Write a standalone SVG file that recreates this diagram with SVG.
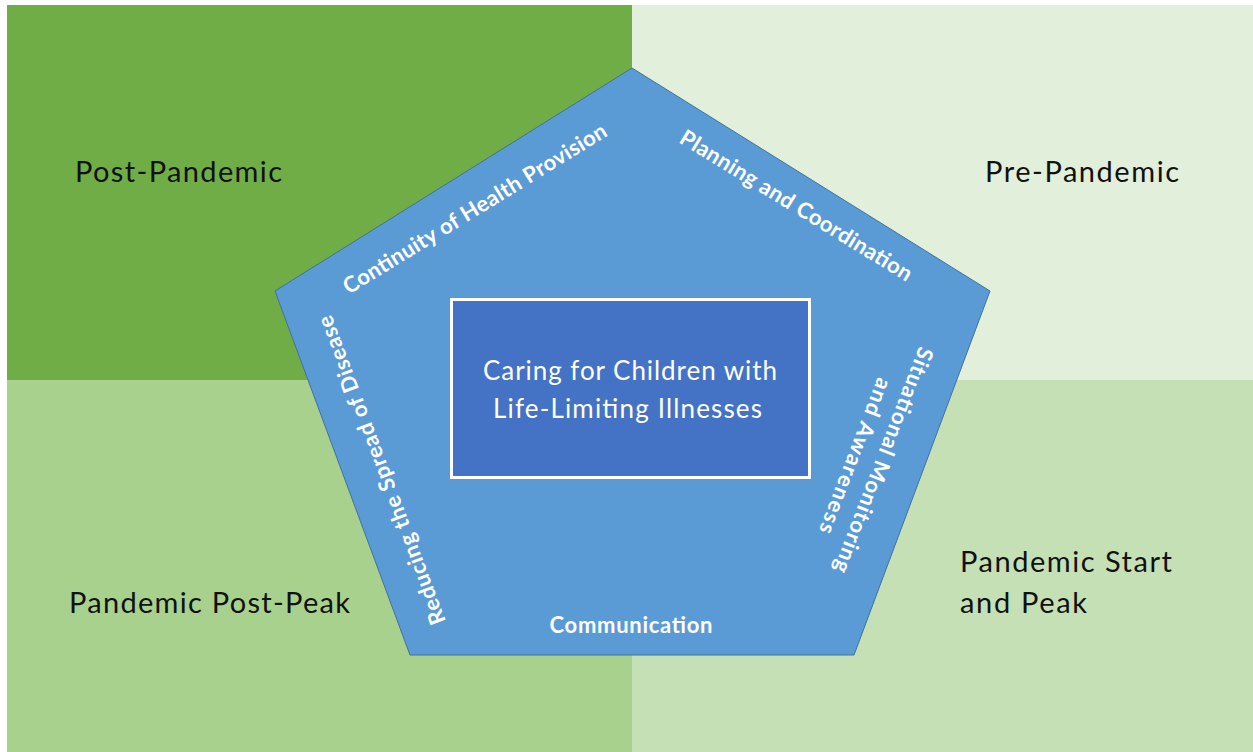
<svg xmlns="http://www.w3.org/2000/svg" width="1253" height="752" viewBox="0 0 1253 752">
<style>
.q{font-family:Lato,"Open Sans","Liberation Sans",sans-serif;font-size:29px;fill:#111}
.c{font-family:Lato,"Open Sans","Liberation Sans",sans-serif;font-size:26px;fill:#fff;text-anchor:middle}
.s{font-family:Lato,"Open Sans","Liberation Sans",sans-serif;font-size:22px;font-weight:bold;fill:#fff;text-anchor:middle}
</style>
<rect width="1253" height="752" fill="#fff"/>
<g id="quadrants">
<g id="post-pandemic"><rect x="7" y="5" width="625" height="375" fill="#70AD47"/><text class="q" x="75" y="182" textLength="207">Post-Pandemic</text></g>
<g id="pre-pandemic"><rect x="632" y="5" width="621" height="375" fill="#E2EFDA"/><text class="q" x="985" y="182" textLength="194">Pre-Pandemic</text></g>
<g id="pandemic-post-peak"><rect x="7" y="380" width="625" height="372" fill="#A9D18E"/><text class="q" x="69" y="613" textLength="281">Pandemic Post-Peak</text></g>
<g id="pandemic-start"><rect x="632" y="380" width="621" height="372" fill="#C5E0B4"/><text class="q" x="960" y="572" textLength="212">Pandemic Start</text><text class="q" x="960" y="613" textLength="127">and Peak</text></g>
</g>
<g id="pentagon">
<polygon points="632,68 990,291 854,655 410,655 275,291" fill="#5B9BD5" stroke="#41719C" stroke-width="1"/>
<text class="s" transform="translate(475,209) rotate(-31.5)" x="0" y="7" textLength="305">Continuity of Health Provision</text>
<text class="s" transform="translate(796,206) rotate(31.5)" x="0" y="7" textLength="268">Planning and Coordination</text>
<text class="s" transform="translate(883,460) rotate(111)" x="0" y="7" textLength="240">Situational Monitoring</text>
<text class="s" transform="translate(855,456) rotate(111)" x="0" y="7" textLength="165">and Awareness</text>
<text class="s" transform="translate(382,470) rotate(-110.5)" x="0" y="7" textLength="328">Reducing the Spread of Disease</text>
<text class="s" x="631" y="633" textLength="163">Communication</text>
</g>
<g id="center">
<rect x="451.5" y="299.5" width="358" height="178" fill="#4472C4" stroke="#fff" stroke-width="3"/>
<text class="c" x="630" y="380" textLength="294">Caring for Children with</text>
<text class="c" x="627.5" y="418" textLength="269">Life-Limiting Illnesses</text>
</g>
<g id="connectors"/>
</svg>
